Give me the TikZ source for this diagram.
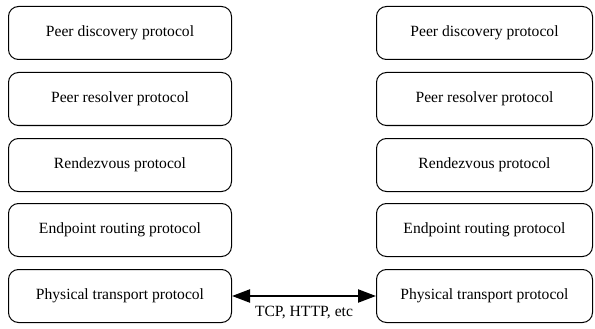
\documentclass[tikz,border=0pt]{standalone}
\usepackage{fontspec}
\setmainfont{Liberation Serif}
\usetikzlibrary{arrows.meta}
\begin{document}
\begin{tikzpicture}[x=1pt,y=-1pt,
  layer/.style={draw=black, line width=1pt, rounded corners=10pt, minimum width=223pt, minimum height=53pt, inner sep=0pt, font=\fontsize{15.6}{18}\selectfont, anchor=north west},
  link/.style={line width=2.2pt, {Triangle[length=18pt,width=13pt]}-{Triangle[length=18pt,width=13pt]}}]
\useasboundingbox (0,0) rectangle (595,329);
\node[layer] (l1) at (8,6) {Peer discovery protocol};
\node[layer] (l2) at (8,72) {Peer resolver protocol};
\node[layer] (l3) at (8,138) {Rendezvous protocol};
\node[layer] (l4) at (8,203) {Endpoint routing protocol};
\node[layer] (l5) at (8,269) {Physical transport protocol};
\node[layer, minimum width=216pt] (r1) at (376,6) {Peer discovery protocol};
\node[layer, minimum width=216pt] (r2) at (376,72) {Peer resolver protocol};
\node[layer, minimum width=216pt] (r3) at (376,138) {Rendezvous protocol};
\node[layer, minimum width=216pt] (r4) at (376,203) {Endpoint routing protocol};
\node[layer, minimum width=216pt] (r5) at (376,269) {Physical transport protocol};
\draw[link] (l5.east) -- (r5.west) node[midway, below=6pt, font=\fontsize{15.6}{18}\selectfont] (lbl) {TCP, HTTP, etc};
\end{tikzpicture}
\end{document}
